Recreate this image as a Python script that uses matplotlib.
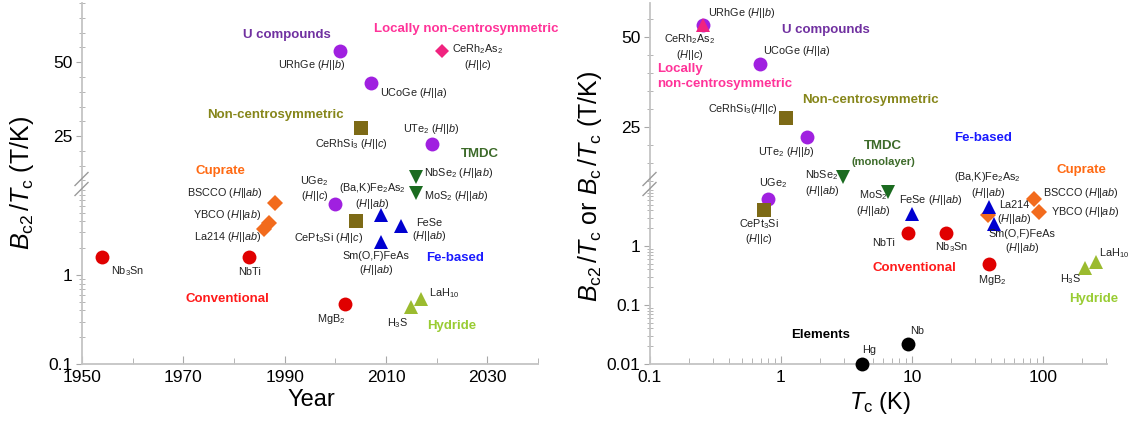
import matplotlib
matplotlib.use('Agg')
import matplotlib.pyplot as plt
from matplotlib.lines import Line2D
from matplotlib.ticker import FixedLocator, NullFormatter, LogLocator, MultipleLocator

plt.rcParams['font.family'] = ['Liberation Sans', 'DejaVu Sans']
plt.rcParams['mathtext.fontset'] = 'custom'
plt.rcParams['mathtext.rm'] = 'Liberation Sans'
plt.rcParams['mathtext.it'] = 'Liberation Sans:italic'
plt.rcParams['mathtext.bf'] = 'Liberation Sans:bold'

W, H = 1136, 425

# ---- left panel: discovery year vs Bc2/Tc ----
LEFT_NAMES = ['Nb3Sn', 'NbTi', 'MgB2', 'La214', 'YBCO', 'BSCCO',
              'H3S', 'LaH10', 'URhGe', 'UGe2', 'UCoGe', 'UTe2',
              'CePt3Si', 'CeRhSi3', 'BaK', 'SmOF', 'FeSe',
              'NbSe2', 'MoS2', 'CeRh2As2']
LEFT_YEAR = [1954, 1983, 2002, 1986, 1987, 1988,
             2015, 2017, 2001, 2000, 2007, 2019,
             2004, 2005, 2009, 2009, 2013,
             2016, 2016, 2021]
LEFT_RATIO = [1.6, 1.58, 0.47, 3.3, 3.85, 6.4,
              0.44, 0.54, 53.7, 6.3, 42.9, 22.3,
              4.05, 27.7, 4.7, 2.35, 3.5,
              11.1, 8.3, 53.7]

# ---- right panel: Tc vs Bc2/Tc (or Bc/Tc) ----
RIGHT_NAMES = ['NbTi', 'Nb3Sn', 'MgB2', 'La214', 'BSCCO', 'YBCO',
               'H3S', 'LaH10', 'URhGe', 'UCoGe', 'UTe2', 'UGe2',
               'CePt3Si', 'CeRhSi3', 'FeSe', 'BaK', 'SmOF',
               'NbSe2', 'MoS2', 'CeRh2As2', 'Hg', 'Nb']
RIGHT_TC = [9.3, 18.2, 39.0, 38.0, 85.0, 93.0,
            210.0, 254.0, 0.254, 0.69, 1.58, 0.8,
            0.74, 1.09, 10.0, 38.5, 42.0,
            2.96, 6.6, 0.254, 4.15, 9.3]
RIGHT_RATIO = [1.63, 1.63, 0.49, 3.35, 6.3, 3.8,
               0.42, 0.54, 53.3, 42.5, 22.2, 6.3,
               4.1, 27.5, 3.5, 4.6, 2.36,
               11.1, 8.2, 53.3, 0.01, 0.022]

GROUP_OF = {
    'Nb3Sn': 'conv', 'NbTi': 'conv', 'MgB2': 'conv',
    'La214': 'cup', 'YBCO': 'cup', 'BSCCO': 'cup',
    'H3S': 'hyd', 'LaH10': 'hyd',
    'URhGe': 'U', 'UGe2': 'U', 'UCoGe': 'U', 'UTe2': 'U',
    'CePt3Si': 'nc', 'CeRhSi3': 'nc',
    'BaK': 'fe', 'SmOF': 'fe', 'FeSe': 'fe',
    'NbSe2': 'tmdc', 'MoS2': 'tmdc',
    'CeRh2As2': 'lnc', 'Hg': 'el', 'Nb': 'el',
}
DRAW_ORDER = ['conv', 'cup', 'hyd', 'U', 'nc', 'fe', 'tmdc', 'lnc', 'el']

STYLE = {
    'conv': dict(marker='o', color='#e00000', ms=10),
    'cup': dict(marker='D', color='#f26b1d', ms=8.5),
    'hyd': dict(marker='^', color='#9bbb2f', ms=10),
    'U': dict(marker='o', color='#a020e0', ms=10),
    'nc': dict(marker='s', color='#7d6a16', ms=10),
    'fe': dict(marker='^', color='#0000d0', ms=10),
    'tmdc': dict(marker='v', color='#1b6b20', ms=10),
    'lnc': dict(marker='D', color='#f0237f', ms=7.5),
    'el': dict(marker='o', color='#000000', ms=10),
}

HL = '($H$||$ab$)'
LEFT_TEXT = {
    'Nb3Sn': 'Nb$_3$Sn', 'NbTi': 'NbTi', 'MgB2': 'MgB$_2$',
    'La214': 'La214 ' + HL, 'YBCO': 'YBCO ' + HL, 'BSCCO': 'BSCCO ' + HL,
    'H3S': 'H$_3$S', 'LaH10': 'LaH$_{10}$',
    'URhGe': 'URhGe ($H$||$b$)', 'UGe2': 'UGe$_2$\n($H$||$c$)',
    'UCoGe': 'UCoGe ($H$||$a$)', 'UTe2': 'UTe$_2$ ($H$||$b$)',
    'CePt3Si': 'CePt$_3$Si ($H$||$c$)', 'CeRhSi3': 'CeRhSi$_3$ ($H$||$c$)',
    'BaK': '(Ba,K)Fe$_2$As$_2$\n' + HL, 'SmOF': 'Sm(O,F)FeAs\n' + HL,
    'FeSe': 'FeSe\n' + HL, 'NbSe2': 'NbSe$_2$ ' + HL, 'MoS2': 'MoS$_2$ ' + HL,
    'CeRh2As2': 'CeRh$_2$As$_2$\n($H$||$c$)',
}
RIGHT_TEXT = dict(LEFT_TEXT)
RIGHT_TEXT.update({
    'La214': 'La214\n' + HL, 'UGe2': 'UGe$_2$', 'CePt3Si': 'CePt$_3$Si\n($H$||$c$)',
    'CeRhSi3': 'CeRhSi$_3$($H$||$c$)', 'FeSe': 'FeSe ' + HL,
    'NbSe2': 'NbSe$_2$\n' + HL, 'MoS2': 'MoS$_2$\n' + HL,
    'Hg': 'Hg', 'Nb': 'Nb',
})

# label offsets in pixels (dx, dy, ha)
LEFT_OFFSET = {
    'Nb3Sn': (9, -14, 'left'), 'NbTi': (0, -15, 'center'), 'MgB2': (-14, -15, 'center'),
    'La214': (-3, -8, 'right'), 'YBCO': (-8, 8, 'right'), 'BSCCO': (-12, 10, 'right'),
    'H3S': (-14, -16, 'center'), 'LaH10': (8, 6, 'left'),
    'URhGe': (-29, -14, 'center'), 'UGe2': (-21, 15, 'center'),
    'UCoGe': (9, -10, 'left'), 'UTe2': (0, 15, 'center'),
    'CePt3Si': (-27, -17, 'center'), 'CeRhSi3': (-9, -16, 'center'),
    'BaK': (-9, 19, 'center'), 'SmOF': (-5, -22, 'center'), 'FeSe': (11, -4, 'left'),
    'NbSe2': (8, 4, 'left'), 'MoS2': (8, -3, 'left'), 'CeRh2As2': (36, -6, 'center'),
}
RIGHT_OFFSET = {
    'NbTi': (-24, -10, 'center'), 'Nb3Sn': (6, -14, 'center'), 'MgB2': (3, -16, 'center'),
    'La214': (9, 2, 'left'), 'BSCCO': (9, 6, 'left'), 'YBCO': (12, 0, 'left'),
    'H3S': (-15, -11, 'center'), 'LaH10': (3, 9, 'left'),
    'URhGe': (5, 12, 'left'), 'UCoGe': (3, 13, 'left'), 'UTe2': (-21, -15, 'center'),
    'UGe2': (5, 16, 'center'), 'CePt3Si': (-5, -22, 'center'),
    'CeRhSi3': (-8, 9, 'right'), 'FeSe': (19, 14, 'center'), 'BaK': (-1, 22, 'center'),
    'SmOF': (28, -18, 'center'), 'NbSe2': (-21, -6, 'center'), 'MoS2': (-15, -11, 'center'),
    'CeRh2As2': (-13, -22, 'center'), 'Hg': (7, 14, 'center'), 'Nb': (9, 13, 'center'),
}

GROUP_TEXT_COLOR = {
    'conv': '#ff1a1a', 'cup': '#ff6a13', 'fe': '#1a1aff', 'hyd': '#99cc33',
    'U': '#7030a0', 'nc': '#86861a', 'tmdc': '#3d6b2a', 'lnc': '#ff3399', 'el': '#000000',
}
# category captions: (text, group, x, y, ha)
LEFT_CAPTIONS = [
    ('U compounds', 'U', 1990.4, 59.1, 'center'),
    ('Locally non-centrosymmetric', 'lnc', 2025.8, 61.1, 'center'),
    ('Non-centrosymmetric', 'nc', 1988.2, 32.1, 'center'),
    ('TMDC', 'tmdc', 2028.6, 18.9, 'center'),
    ('Cuprate', 'cup', 1977.3, 13.2, 'center'),
    ('Fe-based', 'fe', 2023.7, 1.55, 'center'),
    ('Conventional', 'conv', 1978.7, 0.537, 'center'),
    ('Hydride', 'hyd', 2022.9, 0.267, 'center'),
]
RIGHT_CAPTIONS = [
    ('Locally\nnon-centrosymmetric', 'lnc', 0.113, 39.0, 'left'),
    ('U compounds', 'U', 2.21, 51.9, 'center'),
    ('Non-centrosymmetric', 'nc', 4.78, 32.5, 'center'),
    ('TMDC', 'tmdc', 6.01, 19.7, 'center'),
    ('Fe-based', 'fe', 34.8, 21.9, 'center'),
    ('Cuprate', 'cup', 195, 13.1, 'center'),
    ('Conventional', 'conv', 10.4, 0.424, 'center'),
    ('Hydride', 'hyd', 245, 0.126, 'center'),
    ('Elements', 'el', 1.99, 0.031, 'center'),
]

SPLIT = 10.0
SPINE = '#c4c4c4'
TICK = '#a8a8a8'


def px_rect(left, top, right, bottom):
    return [left / W, 1 - bottom / H, (right - left) / W, (bottom - top) / H]


def make_panel(fig, left, right):
    ax_lo = fig.add_axes(px_rect(left, 184, right, 364))
    ax_hi = fig.add_axes(px_rect(left, 3, right, 184), sharex=ax_lo)
    for ax in (ax_lo, ax_hi):
        ax.patch.set_alpha(0)
        for s in ('top', 'right'):
            ax.spines[s].set_visible(False)
        ax.spines['left'].set_color(SPINE)
        ax.spines['bottom'].set_color(SPINE)
        ax.spines['left'].set_linewidth(1.3)
        ax.spines['bottom'].set_linewidth(1.3)
        ax.tick_params(axis='y', which='major', direction='out', length=4,
                       color=TICK, labelsize=12.5, pad=3)
        ax.tick_params(axis='y', which='minor', direction='inout', length=4, color=TICK)
    ax_hi.spines['bottom'].set_visible(False)
    ax_hi.tick_params(axis='x', which='both', bottom=False, labelbottom=False)
    ax_lo.tick_params(axis='x', which='major', direction='in', length=6, color=TICK,
                      labelsize=12.5, pad=4)
    ax_lo.tick_params(axis='x', which='minor', direction='in', length=4, color=TICK)
    ax_lo.set_yscale('log')
    ax_hi.yaxis.set_major_locator(FixedLocator([25, 50]))
    ax_hi.yaxis.set_minor_locator(MultipleLocator(5))
    # axis break marks
    for yb in (179, 189):
        fig.add_artist(Line2D([(left - 7) / W, (left + 6) / W],
                              [1 - (yb + 6.5) / H, 1 - (yb - 6.5) / H],
                              color='#9a9a9a', lw=1.0))
    return ax_lo, ax_hi


def draw_points(ax_lo, ax_hi, names, xs, ys, texts, offsets, marker_override=None):
    marker_override = marker_override or {}
    rows = list(zip(names, xs, ys))
    rows.sort(key=lambda r: DRAW_ORDER.index(GROUP_OF[r[0]]))
    for name, x, y in rows:
        st = dict(STYLE[GROUP_OF[name]])
        st.update(marker_override.get(name, {}))
        ax = ax_hi if y >= SPLIT else ax_lo
        ax.plot([x], [y], linestyle='none', marker=st['marker'], color=st['color'],
                markersize=st['ms'], markeredgewidth=0, clip_on=False, zorder=3)
        dx, dy, ha = offsets[name]
        ax.annotate(texts[name], (x, y), xytext=(dx, dy), textcoords='offset pixels',
                    ha=ha, va='center', fontsize=7.8, color='#222222',
                    annotation_clip=False, multialignment='center', linespacing=1.15)


def draw_captions(ax_lo, ax_hi, captions):
    for text, grp, x, y, ha in captions:
        ax = ax_hi if y >= SPLIT else ax_lo
        ax.text(x, y, text, color=GROUP_TEXT_COLOR[grp], fontsize=9.5, fontweight='bold',
                ha=ha, va='center', clip_on=False, linespacing=1.3)


fig = plt.figure(figsize=(W / 100, H / 100), dpi=100)

# left panel
lo1, hi1 = make_panel(fig, 82, 538)
lo1.set_xlim(1950, 2040)
lo1.set_ylim(0.1, 10.5)
hi1.set_ylim(8.8, 70)
lo1.xaxis.set_major_locator(FixedLocator([1950, 1970, 1990, 2010, 2030]))
lo1.xaxis.set_minor_locator(FixedLocator([1960, 1980, 2000, 2020, 2040]))
lo1.yaxis.set_major_locator(FixedLocator([0.1, 1]))
lo1.set_yticklabels(['0.1', '1'])
lo1.yaxis.set_minor_locator(LogLocator(base=10, subs=range(2, 10)))
lo1.yaxis.set_minor_formatter(NullFormatter())
draw_points(lo1, hi1, LEFT_NAMES, LEFT_YEAR, LEFT_RATIO, LEFT_TEXT, LEFT_OFFSET)
draw_captions(lo1, hi1, LEFT_CAPTIONS)

# right panel
lo2, hi2 = make_panel(fig, 650, 1107)
lo2.set_xscale('log')
lo2.set_xlim(0.1, 308)
lo2.set_ylim(0.01, 11.2)
hi2.set_ylim(9.2, 59.4)
lo2.xaxis.set_major_locator(FixedLocator([0.1, 1, 10, 100]))
lo2.set_xticklabels(['0.1', '1', '10', '100'])
lo2.xaxis.set_minor_locator(LogLocator(base=10, subs=range(2, 10)))
lo2.xaxis.set_minor_formatter(NullFormatter())
lo2.yaxis.set_major_locator(FixedLocator([0.01, 0.1, 1]))
lo2.set_yticklabels(['0.01', '0.1', '1'])
lo2.yaxis.set_minor_locator(LogLocator(base=10, subs=range(2, 10)))
lo2.yaxis.set_minor_formatter(NullFormatter())
draw_points(lo2, hi2, RIGHT_NAMES, RIGHT_TC, RIGHT_RATIO, RIGHT_TEXT, RIGHT_OFFSET,
            marker_override={'CeRh2As2': dict(marker='^', ms=10)})
draw_captions(lo2, hi2, RIGHT_CAPTIONS)
hi2.text(6.01, 15.3, '(monolayer)', color=GROUP_TEXT_COLOR['tmdc'], fontsize=8,
         fontweight='bold', ha='center', va='center')

# axis titles
fig.text(22 / W, 1 - 183 / H, r'$B_{\mathrm{c2}}\,/T_{\mathrm{c}}$ (T/K)', rotation=90,
         fontsize=18, ha='center', va='center')
fig.text(590 / W, 1 - 186 / H,
         r'$B_{\mathrm{c2}}\,/T_{\mathrm{c}}$ or $B_{\mathrm{c}}\,/T_{\mathrm{c}}$ (T/K)',
         rotation=90, fontsize=18, ha='center', va='center')
fig.text(311 / W, 1 - 400 / H, 'Year', fontsize=17, ha='center', va='center')
fig.text(880 / W, 1 - 403 / H, r'$T_{\mathrm{c}}$ (K)', fontsize=17, ha='center', va='center')

fig.savefig('out.png', dpi=100, facecolor='white')
